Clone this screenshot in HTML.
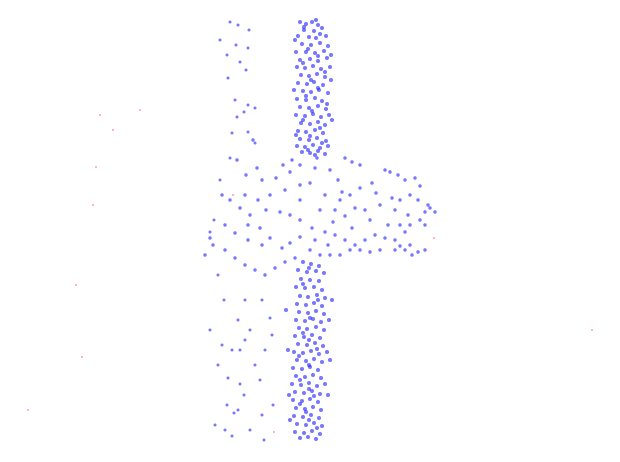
<!DOCTYPE html>
<html><head><meta charset="utf-8"><style>html,body{margin:0;padding:0;background:#fff}svg{display:block}</style></head>
<body>
<svg id="chart" width="620" height="462" viewBox="0 0 620 462">
<g id="pts"></g>
<g id="red"></g>
</svg>
<script>
// blue points, "x,y" in data units
const upperColumn = "300,22 306,24 312,22 318,25 304,30 314,31 322,28 298,36 309,37 316,38 326,36 302,44 311,45 320,43 328,46 296,52 306,52 315,53 324,51 300,60 310,59 318,61 327,58 297,67 305,68 313,66 321,69 330,67 301,75 309,76 317,74 325,77 298,83 307,84 314,82 323,85 303,91 311,92 319,90 328,93 297,99 306,100 315,98 322,101 300,107 309,108 318,106 326,109 296,115 305,116 313,114 321,117 329,115 301,123 310,124 318,122 325,125 298,131 306,132 315,130 323,133 300,139 309,140 317,138 326,141 297,146 305,147 313,145 320,148 328,146 302,152 310,153 318,151 325,154 304,27 320,34 308,49 318,56 303,63 325,72 311,80 318,88 306,96 327,104 312,111 303,120 320,128 310,136 322,143 308,150 295,40 331,55 294,90 332,120 331,80 316,20 296,135 315,155";
const lowerColumn = "303,262 311,264 319,266 298,270 307,272 316,271 324,273 301,279 310,280 319,281 296,287 305,288 314,287 322,290 300,296 308,297 317,295 325,298 297,304 306,305 314,303 322,306 299,312 308,313 316,311 324,314 296,320 305,321 313,319 321,322 329,320 299,328 307,329 316,327 324,330 295,336 304,337 312,335 320,338 298,344 307,345 315,343 323,346 294,352 303,353 311,351 319,354 327,352 297,360 306,361 314,359 322,362 293,368 302,369 310,367 318,370 296,376 305,377 313,375 321,378 292,384 301,385 309,383 317,386 325,384 295,392 304,393 312,391 320,394 293,400 302,401 310,399 318,402 296,408 305,409 313,407 321,410 294,416 303,417 311,415 319,418 297,424 306,425 314,423 322,426 295,432 304,433 312,431 320,434 300,438 308,437 316,439 309,268 303,284 318,300 310,318 303,333 317,349 309,365 300,380 314,396 306,412 317,428 289,395 290,420 328,395 330,360 288,350 332,300 286,310 309,340 299,356 309,389 300,404 309,420";
const middleBand = "237,160 253,140 257,168 246,175 262,180 276,178 290,172 300,165 315,168 330,170 345,158 352,162 360,165 270,195 285,190 300,185 310,183 325,195 335,210 340,200 350,195 360,188 372,183 385,170 390,172 398,175 405,180 415,178 420,186 410,195 400,200 392,198 380,205 365,210 355,208 345,216 333,222 325,232 312,228 300,220 290,215 280,212 266,210 250,215 240,208 230,200 222,195 245,195 258,200 225,225 235,233 248,240 262,245 270,238 282,248 290,243 300,237 315,240 328,245 335,235 345,240 355,245 365,240 375,235 385,238 395,240 405,232 410,225 420,220 425,212 430,208 435,212 428,205 418,200 408,215 400,225 395,250 405,250 412,255 418,252 425,250 410,245 400,246 380,250 370,252 360,250 350,250 340,255 330,255 320,255 310,250 295,258 285,262 275,268 265,275 255,270 245,265 235,258 225,250 213,245 205,255 210,238 248,225 260,228 300,200 320,210 370,220 388,225 425,225 395,210 352,228 342,192 376,193 292,160 283,165 338,180 317,158";
const sparseLeft = "230,22 238,25 249,30 220,40 236,45 248,48 227,55 240,62 228,78 246,70 235,100 248,105 255,108 237,117 244,112 232,133 248,132 255,143 230,158 220,180 214,220 210,232 218,275 224,300 210,330 222,345 218,365 232,350 240,350 228,378 240,384 227,405 234,413 244,395 215,425 225,430 232,436 238,410 250,430 262,415 260,380 255,365 265,350 250,330 238,320 245,300 262,300 270,318 272,335 273,405 264,440 245,340";
const redPoints = "100,115 113,130 140,110 96,167 93,205 76,285 82,357 28,410 592,330 434,238 233,195 274,432";

const xMin = 0, xMax = 620, yMin = 0, yMax = 462;
const sx = v => (v - xMin) / (xMax - xMin) * 620;
const sy = v => (v - yMin) / (yMax - yMin) * 462;
const parse = s => s.trim().split(/\s+/).map(p => p.split(',').map(Number));
const NS = "http://www.w3.org/2000/svg";
const g = document.getElementById('pts');
[[upperColumn, 2.0], [lowerColumn, 2.0], [middleBand, 1.7], [sparseLeft, 1.5]].forEach(([set, r]) => {
  parse(set).forEach(([x, y]) => {
    const c = document.createElementNS(NS, 'circle');
    c.setAttribute('cx', sx(x)); c.setAttribute('cy', sy(y)); c.setAttribute('r', r);
    c.setAttribute('fill', 'rgba(30,30,255,0.6)');
    
    
    g.appendChild(c);
  });
});
const rg = document.getElementById('red');
parse(redPoints).forEach(([x, y]) => {
  const c = document.createElementNS(NS, 'circle');
  c.setAttribute('cx', sx(x)); c.setAttribute('cy', sy(y)); c.setAttribute('r', 1);
  c.setAttribute('fill', 'rgba(255,60,60,0.5)');
  
  
  rg.appendChild(c);
});
</script>
</body></html>
